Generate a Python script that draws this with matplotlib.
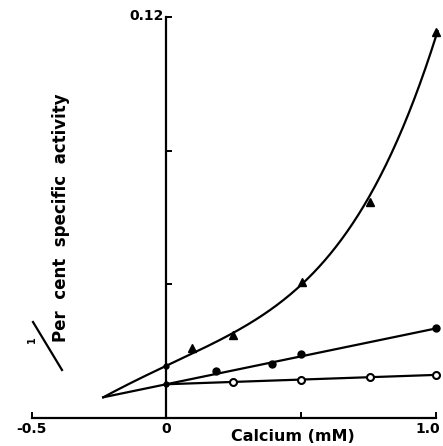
import numpy as np
import matplotlib
matplotlib.use("Agg")
import matplotlib.pyplot as plt
from matplotlib.lines import Line2D
from matplotlib.transforms import ScaledTranslation

# ---- data ----
tri_x = [0.095, 0.246, 0.502, 0.757, 1.0]
tri_y = [0.0209, 0.0248, 0.0407, 0.0646, 0.1155]
# points read along the drawn curve through the triangles
tri_curve_x = [-0.234, 0.0, 0.198, 0.383, 0.502, 0.606, 0.717, 0.820, 0.865, 0.939, 1.006]
tri_curve_y = [0.0062, 0.0157, 0.0230, 0.0323, 0.0407, 0.0494, 0.0593, 0.0772, 0.0853, 0.1003, 0.1152]

fill_x = [0.186, 0.390, 0.501, 1.0]
fill_y = [0.0141, 0.0162, 0.0191, 0.0268]
fill_line_x = [-0.234, 1.0]
fill_line_y = [0.0062, 0.0268]

open_x = [0.247, 0.501, 0.754, 1.0]
open_y = [0.0107, 0.0114, 0.0124, 0.0129]
open_line_x = [0.0, 1.0]
open_line_y = [0.0101, 0.0129]

intercept_x = [0.0, 0.0]
intercept_y = [0.0157, 0.0101]

xticks = [-0.5, 0.0, 0.5, 1.0]
xticklabels = ["-0.5", "0", "", "1.0"]
yticks = [0.04, 0.08, 0.12]
yticklabels = ["", "", "0.12"]

W, H = 443, 446
fig = plt.figure(figsize=(W / 100, H / 100), dpi=100)
ax = fig.add_axes([31.5 / W, (H - 418) / H, (436 - 31.5) / W, 401 / H])
ax.set_xlim(-0.5, 1.0)
ax.set_ylim(0, 0.12)

# curve through triangles: smooth polynomial through the read curve points
p = np.polyfit(tri_curve_x, tri_curve_y, 4)
xs = np.linspace(tri_curve_x[0], tri_curve_x[-1], 300)
ax.plot(xs, np.polyval(p, xs), color="black", lw=1.6, clip_on=False)
ax.plot(fill_line_x, fill_line_y, color="black", lw=1.6)
ax.plot(open_line_x, open_line_y, color="black", lw=1.6)

ax.plot(tri_x, tri_y, linestyle="none", marker="^", ms=6, color="black", clip_on=False)
ax.plot(fill_x, fill_y, linestyle="none", marker="o", ms=5, color="black", clip_on=False)
ax.plot(open_x, open_y, linestyle="none", marker="o", ms=5, mfc="white", mec="black",
        mew=1.5, clip_on=False)
ax.plot(intercept_x, intercept_y, linestyle="none", marker="o", ms=3.5, color="black")

for s in ["top", "right"]:
    ax.spines[s].set_visible(False)
ax.spines["left"].set_position(("data", 0))
ax.spines["left"].set_linewidth(1.6)
ax.spines["bottom"].set_linewidth(1.6)

ax.set_xticks(xticks)
ax.set_xticklabels(xticklabels)
ax.set_yticks(yticks)
ax.set_yticklabels(yticklabels)
ax.tick_params(axis="both", direction="in", length=4, width=1.4, labelsize=10)
ax.tick_params(axis="x", pad=3)
ax.tick_params(axis="y", pad=2)
for lab in ax.get_xticklabels() + ax.get_yticklabels():
    lab.set_fontweight("bold")
ax.get_xticklabels()[-1].set_transform(
    ax.get_xticklabels()[-1].get_transform() + ScaledTranslation(-0.08, 0, fig.dpi_scale_trans))
ax.get_yticklabels()[-1].set_transform(
    ax.get_yticklabels()[-1].get_transform() + ScaledTranslation(0, 0.02, fig.dpi_scale_trans))

ax.set_xlabel("Calcium (mM)", fontsize=11.5, fontweight="bold")
ax.xaxis.set_label_coords((293 - 31.5) / (436 - 31.5), -11 / 401)

# y label: "1/Per cent specific activity"
fig.text(61 / W, 1 - 218 / H, "Per  cent  specific  activity", rotation=90,
         ha="center", va="center", fontsize=12, fontweight="bold")
fig.text(32 / W, 1 - 340 / H, "1", rotation=90, ha="center", va="center",
         fontsize=7, fontweight="bold")
fig.add_artist(Line2D([33 / W, 62 / W], [1 - 322 / H, 1 - 370 / H],
                      transform=fig.transFigure, color="black", lw=1.6))

fig.savefig("out.png", dpi=100)
